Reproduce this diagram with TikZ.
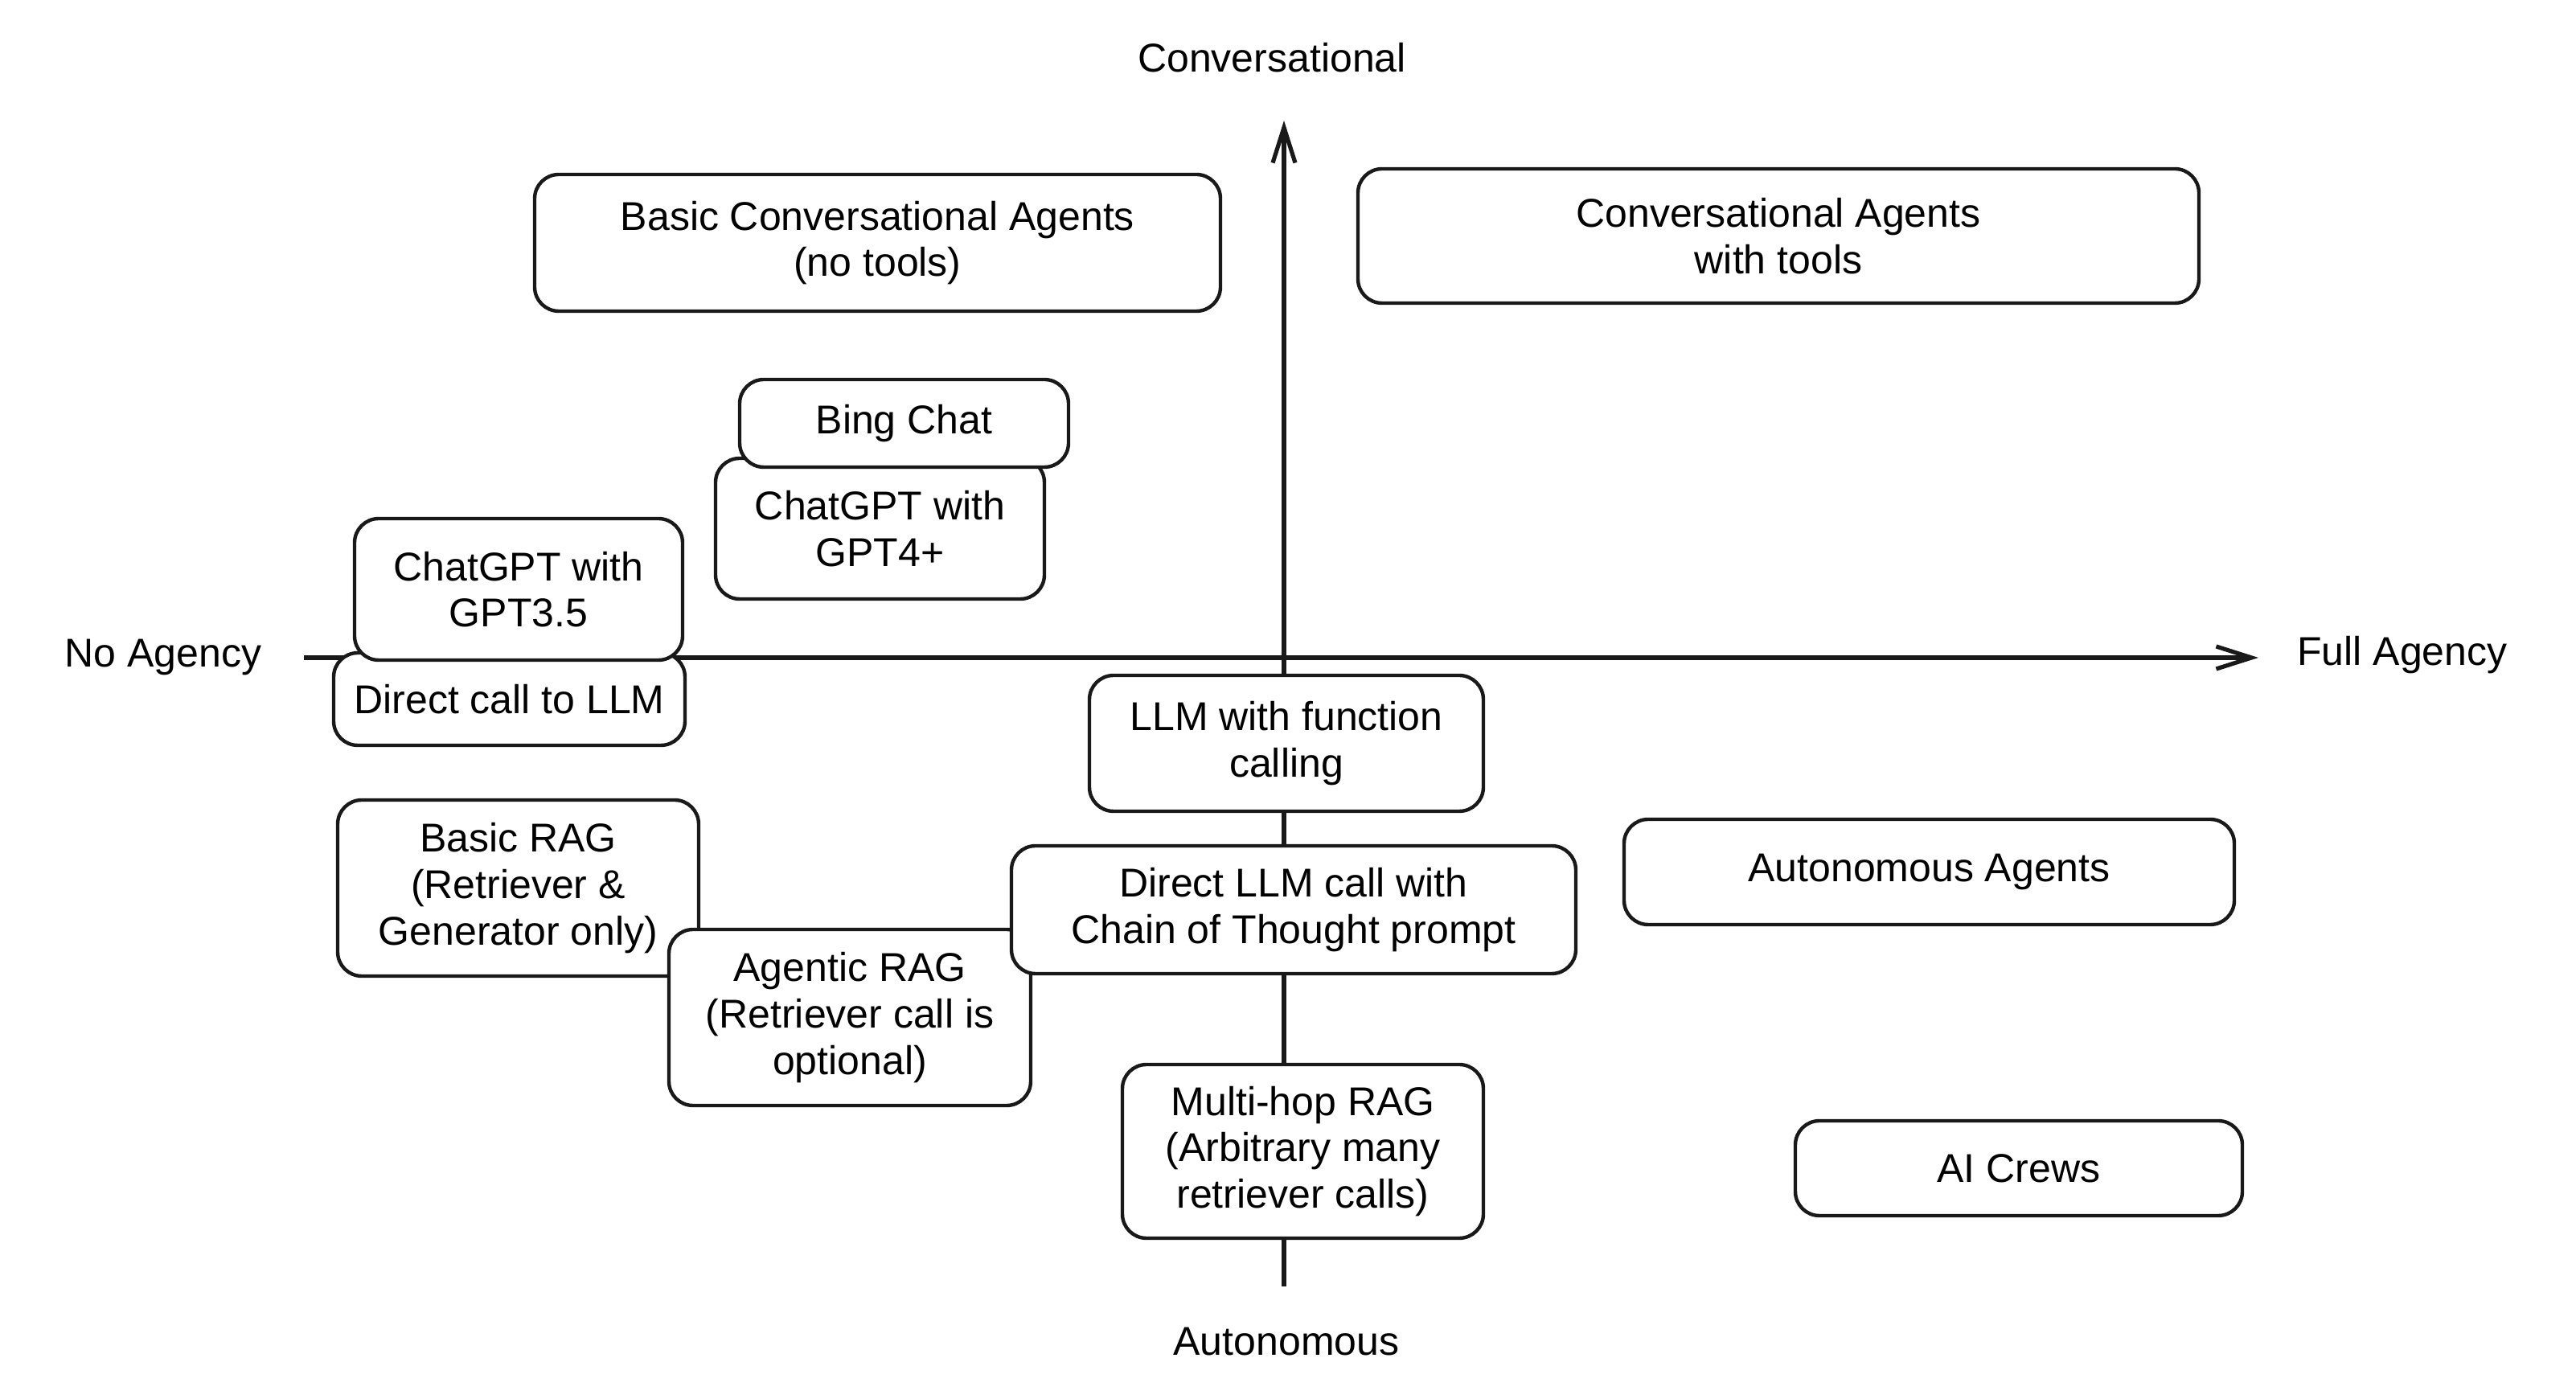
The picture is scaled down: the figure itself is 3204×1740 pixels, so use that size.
\documentclass[tikz,border=0pt]{standalone}
\usepackage{fontspec}
\setmainfont{Liberation Sans}
\usetikzlibrary{arrows.meta}
\tikzset{
  box/.style={draw=black!90, line width=1.1pt, fill=white, rounded corners=7.5pt,
    inner sep=0pt, align=center, font=\fontsize{12.5}{14.4}\selectfont},
  axislabel/.style={inner sep=0pt, font=\fontsize{12.5}{14.4}\selectfont},
  axis/.style={draw=black!90, line width=1.3pt, -{Straight Barb[length=11pt,width=7pt,line width=1.3pt]}}
}
\begin{document}
\begin{tikzpicture}[x=0.25pt,y=-0.25pt]
\useasboundingbox (0,0) rectangle (3204,1740);
% axis labels
\node[axislabel] (conv) at (1582,72) {Conversational};
\node[axislabel] (noag) at (203,818) {No Agency};
\node[axislabel] (fullag) at (2988,815) {Full Agency};
\node[axislabel] (auton) at (1600,1669) {Autonomous};
% axes
\coordinate (vb) at (1597,1600);
\coordinate (vt) at (1597,150);
\coordinate (hl) at (378,818);
\coordinate (hr) at (2809,818);
\draw[axis] (vb) -- (vt);
\draw[axis] (hl) -- (hr);
% boxes
\node[box, minimum width=213.25pt, minimum height=42.5pt] (bca) at (1091.5,302) {Basic Conversational Agents\\(no tools)};
\node[box, minimum width=261.5pt, minimum height=41.75pt] (cat) at (2212,293.5) {Conversational Agents\\with tools};
\node[box, minimum width=102.25pt, minimum height=43.75pt] (gpt4) at (1094.5,657.5) {ChatGPT with\\GPT4+};
\node[box, minimum width=102.25pt, minimum height=27.25pt] (bing) at (1124.5,526.5) {Bing Chat};
\node[box, minimum width=109.25pt, minimum height=28.75pt] (direct) at (633.5,869.5) {Direct call to LLM};
\node[box, minimum width=102pt, minimum height=44pt] (gpt35) at (645,733) {ChatGPT with\\GPT3.5};
\node[box, minimum width=122.5pt, minimum height=42.25pt] (llmfc) at (1600,924.5) {LLM with function\\calling};
\node[box, minimum width=112.25pt, minimum height=54.75pt] (basicrag) at (644.5,1104.5) {Basic RAG\\(Retriever \&\\Generator only)};
\node[box, minimum width=112.5pt, minimum height=54.75pt] (agentic) at (1057,1265.5) {Agentic RAG\\(Retriever call is\\optional)};
\node[box, minimum width=175.5pt, minimum height=39.75pt] (cot) at (1609,1131.5) {Direct LLM call with\\Chain of Thought prompt};
\node[box, minimum width=112.25pt, minimum height=54pt] (multihop) at (1620.5,1432) {Multi-hop RAG\\(Arbitrary many\\retriever calls)};
\node[box, minimum width=189.75pt, minimum height=32.75pt] (autoag) at (2399.5,1084.5) {Autonomous Agents};
\node[box, minimum width=139pt, minimum height=29.5pt] (aicrews) at (2511,1453) {AI Crews};
\end{tikzpicture}
\end{document}
